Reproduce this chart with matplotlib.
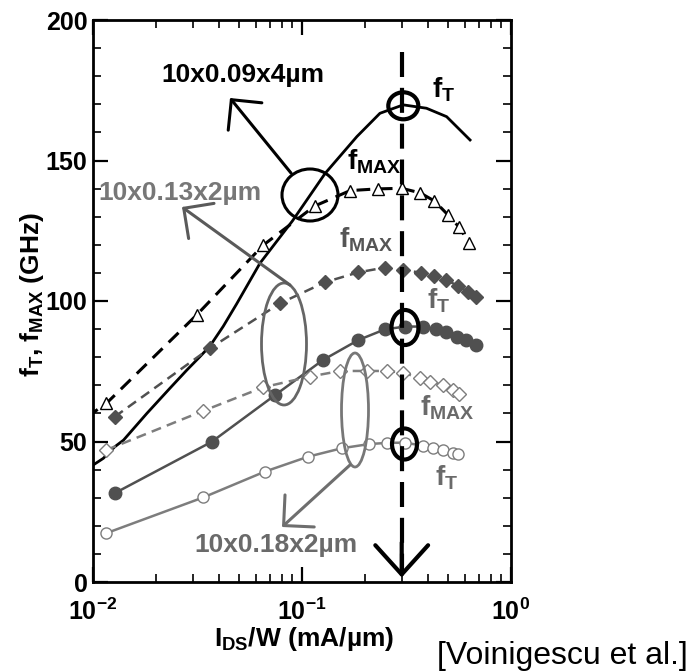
import matplotlib
matplotlib.use('Agg')
import matplotlib.pyplot as plt
from matplotlib.patches import Ellipse
from matplotlib.ticker import MultipleLocator, LogLocator, NullFormatter

plt.rcParams['font.family'] = ['Liberation Sans', 'DejaVu Sans']
plt.rcParams['font.weight'] = 'bold'
plt.rcParams['mathtext.fontset'] = 'custom'
plt.rcParams['mathtext.rm'] = 'Liberation Sans:bold'
plt.rcParams['mathtext.it'] = 'Liberation Sans:bold'
plt.rcParams['mathtext.bf'] = 'Liberation Sans:bold'
plt.rcParams['mathtext.default'] = 'rm'

# ---------------- data ----------------
# 10x0.09x4um device
x_ft09 = [0.01, 0.0112, 0.0127, 0.0140, 0.0181, 0.0233, 0.0281, 0.0325, 0.0363, 0.0420,
          0.0487, 0.063, 0.09, 0.129, 0.183, 0.236, 0.305, 0.394, 0.492, 0.637]
y_ft09 = [41.6, 44.0, 48.1, 50.5, 60.0, 68.9, 75.4, 80.2, 84.0, 91.0,
          99.0, 113.5, 128.5, 145.4, 158.5, 166.8, 169.8, 168.6, 165.6, 157.3]
x_fmax09 = [0.0093, 0.0116, 0.0313, 0.0653, 0.115, 0.170, 0.23, 0.30, 0.367, 0.43, 0.50, 0.566, 0.63]
y_fmax09 = [58.6, 63.6, 95.0, 119.9, 133.8, 139.3, 139.9, 140.1, 138.5, 135.6, 130.6, 126.2, 120.7]

# 10x0.13x2um device
x_ft13 = [0.0127, 0.037, 0.0743, 0.126, 0.186, 0.249, 0.311, 0.38, 0.44, 0.49, 0.55, 0.61, 0.68]
y_ft13 = [31.6, 49.9, 66.5, 79.0, 86.1, 89.9, 90.9, 90.9, 89.9, 89.1, 87.3, 86.1, 84.3]
x_fmax13 = [0.0127, 0.0363, 0.0786, 0.129, 0.186, 0.249, 0.305, 0.37, 0.43, 0.49, 0.556, 0.62, 0.68]
y_fmax13 = [58.8, 83.2, 99.2, 106.7, 110.2, 111.9, 111.0, 110.1, 109.0, 107.5, 105.4, 103.3, 101.5]

# 10x0.18x2um device
x_ft18 = [0.0116, 0.0337, 0.0665, 0.107, 0.155, 0.21, 0.255, 0.31, 0.38, 0.425, 0.474, 0.53, 0.558]
y_ft18 = [17.4, 30.1, 39.3, 44.6, 47.6, 49.1, 49.5, 49.6, 48.5, 47.8, 47.0, 46.0, 45.6]
x_fmax18 = [0.0116, 0.0337, 0.0653, 0.109, 0.152, 0.204, 0.254, 0.305, 0.367, 0.41, 0.474, 0.53, 0.566]
y_fmax18 = [47.0, 60.9, 69.3, 73.1, 75.1, 75.1, 75.1, 74.5, 72.5, 71.3, 70.1, 68.3, 66.8]

x_peak = 0.3
y_ticks = [0, 50, 100, 150, 200]

# ---------------- figure ----------------
W, H = 694, 671
fig = plt.figure(figsize=(W / 100, H / 100), dpi=100)
L, R, T, B = 93, 511, 20, 582
ax = fig.add_axes([L / W, 1 - B / H, (R - L) / W, (B - T) / H])

def af(x, y):
    return ((x - L) / (R - L), (B - y) / (B - T))

def fpx(x, y):
    return (x, H - y)

c09 = 'black'
c13 = '#505050'
c18 = '#7d7d7d'

ax.plot(x_ft09, y_ft09, '-', color=c09, lw=2.0, zorder=3)
ax.plot(x_fmax09, y_fmax09, color=c09, lw=2.2, dashes=(4.5, 2.8), marker='^', ms=9,
        mfc='white', mec=c09, mew=1.0, zorder=4)
ax.plot(x_ft13, y_ft13, '-', color=c13, lw=1.8, marker='o', ms=9, mfc=c13, mec=c13, zorder=3)
ax.plot(x_fmax13, y_fmax13, color=c13, lw=1.8, dashes=(4, 2.5), marker='D', ms=7,
        mfc=c13, mec=c13, zorder=3)
ax.plot(x_ft18, y_ft18, '-', color=c18, lw=1.8, marker='o', ms=8, mfc='white', mec=c18,
        mew=1.0, zorder=3)
ax.plot(x_fmax18, y_fmax18, color=c18, lw=1.8, dashes=(4, 2.5), marker='D', ms=7,
        mfc='white', mec=c18, mew=1.0, zorder=3)

ax.set_xscale('log')
ax.set_xlim(0.01, 1.0)
ax.set_ylim(0, 200)
ax.set_yticks(y_ticks)
ax.yaxis.set_minor_locator(MultipleLocator(10))
ax.xaxis.set_major_locator(LogLocator(base=10, numticks=10))
ax.xaxis.set_minor_locator(LogLocator(base=10, subs=range(2, 10), numticks=10))
ax.xaxis.set_minor_formatter(NullFormatter())
ax.tick_params(which='both', direction='in', top=True, right=True)
ax.tick_params(which='major', length=11, width=1.6, labelsize=18)
ax.tick_params(axis='y', which='major', pad=4)
ax.tick_params(axis='x', which='major', pad=12)
ax.tick_params(which='minor', length=6, width=1.2)
for lab in ax.get_yticklabels():
    lab.set_fontweight('bold')
for s in ax.spines.values():
    s.set_linewidth(2)

# vertical dashed marker line with arrow head
ax.plot([x_peak, x_peak], [188.6, 3], color='black', lw=3, dashes=(6, 2.6), zorder=5)
ax.annotate('', xy=(x_peak, 1.6), xytext=(x_peak, 14),
            arrowprops=dict(arrowstyle='->,head_length=1.05,head_width=0.95', lw=3,
                            color='black', shrinkA=0, shrinkB=0, mutation_scale=20),
            zorder=6)

# ellipses / circles (pixel-based layout)
def ell(cx, cy, w, h, color, lw):
    e = Ellipse(af(cx, cy), w / (R - L), h / (B - T), transform=ax.transAxes,
                fill=False, ec=color, lw=lw, zorder=6)
    ax.add_patch(e)

ell(310, 195, 56, 52, 'black', 2.2)
ell(284, 344, 45, 122, '#666666', 2.0)
ell(355, 410, 27, 114, '#777777', 2.0)
ell(403.3, 105.8, 30, 27, 'black', 3)
ell(405, 327.5, 27, 35, 'black', 3)
ell(404.5, 444, 25, 31, 'black', 3)

# arrows from ellipses to labels
def arrow(sx, sy, tx, ty, color):
    ax.annotate('', xy=fpx(tx, ty), xycoords='figure pixels',
                xytext=fpx(sx, sy), textcoords='figure pixels',
                arrowprops=dict(arrowstyle='->,head_length=0.78,head_width=0.78', lw=2.2,
                                color=color, shrinkA=0, shrinkB=0, mutation_scale=20),
                zorder=6)

arrow(291, 173, 230, 98, 'black')
arrow(290, 285, 182, 207, '#5a5a5a')
arrow(350, 465, 282, 527, '#6e6e6e')

def ftext(x, y, s, color='black', size=17, **kw):
    fig.text(x / W, 1 - y / H, s, color=color, fontsize=size, **kw)

ftext(243, 75, '10x0.09x4\u00b5m', size=19, ha='center', va='center')
ftext(180, 193, '10x0.13x2\u00b5m', size=19, color='#777777', ha='center', va='center')
ftext(276, 545, '10x0.18x2\u00b5m', size=19, color='#6a6a6a', ha='center', va='center')

ftext(432, 97, r'f$_T$', size=20, ha='left', va='baseline')
ftext(347, 170, r'f$_{MAX}$', size=20, ha='left', va='baseline')
ftext(339, 248, r'f$_{MAX}$', size=20, color='#555555', ha='left', va='baseline')
ftext(427, 308, r'f$_T$', size=20, color='#666666', ha='left', va='baseline')
ftext(420, 415, r'f$_{MAX}$', size=20, color='#6a6a6a', ha='left', va='baseline')
ftext(435, 485, r'f$_T$', size=20, color='#6a6a6a', ha='left', va='baseline')

# axis labels
ftext(304, 646, 'I$_{DS}$/W (mA/\u00b5m)', size=19, ha='center', va='baseline')
ftext(32, 295, r'f$_T$, f$_{MAX}$ (GHz)', size=19, ha='center', va='center', rotation=90)
ftext(437, 664, '[Voinigescu et al.]', size=23, fontweight='normal', ha='left', va='baseline')

fig.savefig('out.png', dpi=100)
